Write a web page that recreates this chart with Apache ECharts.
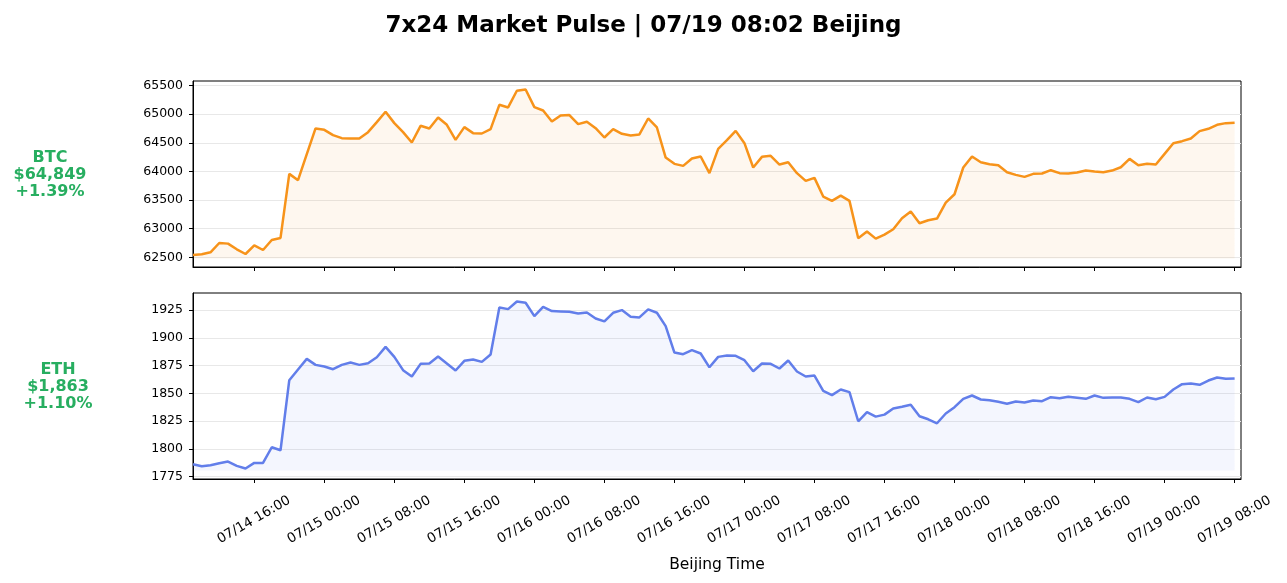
<!DOCTYPE html>
<html lang="en">
<head>
    <meta charset="UTF-8">
    <title>7x24 Market Pulse</title>
    <script src="https://cdn.jsdelivr.net/npm/echarts@6.0.0/dist/echarts.min.js"></script>
    <style>
        html, body { margin: 0; padding: 0; background: #fff; }
        #chart { width: 1287px; height: 583px; }
    </style>
</head>
<body>
    <div id="chart"></div>
    <script>
        // hourly closes, first point 07/14 09:02 Beijing
        const startHour = 9 + 2 / 60;
        const btc = [
            62541, 62552, 62587, 62750, 62739, 62640, 62558, 62710, 62628, 62803,
            62838, 63957, 63846, 64301, 64750, 64726, 64633, 64580, 64575, 64575,
            64685, 64860, 65041, 64843, 64685, 64505, 64796, 64750, 64942, 64814,
            64551, 64773, 64668, 64662, 64738, 65163, 65117, 65408, 65431, 65122,
            65064, 64872, 64977, 64983, 64825, 64866, 64755, 64592, 64738, 64656,
            64627, 64645, 64924, 64767, 64242, 64132, 64097, 64225, 64260, 63970,
            64394, 64545, 64708, 64493, 64068, 64254, 64272, 64120, 64161, 63969,
            63834, 63887, 63561, 63485, 63578, 63485, 62832, 62949, 62826, 62896,
            62990, 63182, 63298, 63094, 63147, 63176, 63456, 63601, 64068, 64260,
            64161, 64126, 64108, 63986, 63939, 63904, 63957, 63963, 64021, 63969,
            63963, 63980, 64015, 63998, 63986, 64015, 64073, 64219, 64108, 64132,
            64120, 64306, 64493, 64528, 64575, 64703, 64744, 64814, 64843, 64849
        ];
        const eth = [
            1786.2, 1784.4, 1785.3, 1787.1, 1788.6, 1784.7, 1782.3, 1787.4, 1787.4, 1801.5,
            1798.8, 1861.9, 1871.5, 1881.1, 1875.7, 1874.2, 1871.8, 1875.7, 1877.8, 1875.7,
            1877.2, 1882.6, 1891.9, 1882.9, 1870.9, 1865.2, 1876.6, 1876.9, 1883.2, 1877.0,
            1870.6, 1879.3, 1880.5, 1878.4, 1885.0, 1927.4, 1925.9, 1932.8, 1931.6, 1919.6,
            1928.0, 1924.1, 1923.8, 1923.5, 1922.0, 1922.9, 1917.5, 1914.8, 1922.6, 1925.0,
            1919.0, 1918.4, 1925.6, 1922.6, 1910.6, 1886.8, 1885.3, 1888.9, 1885.9, 1873.5,
            1882.9, 1884.1, 1883.8, 1879.9, 1870.0, 1876.9, 1876.6, 1872.4, 1879.6, 1869.7,
            1865.2, 1866.1, 1852.3, 1848.4, 1853.5, 1851.1, 1824.9, 1833.1, 1829.1, 1830.9,
            1836.4, 1837.9, 1839.7, 1829.4, 1826.7, 1823.1, 1831.9, 1837.6, 1845.1, 1848.1,
            1844.5, 1843.9, 1842.4, 1840.6, 1842.7, 1841.8, 1843.6, 1843.0, 1846.6, 1845.7,
            1846.9, 1846.0, 1845.1, 1848.1, 1846.0, 1846.3, 1846.3, 1845.1, 1842.1, 1846.3,
            1844.8, 1846.9, 1853.5, 1858.3, 1858.9, 1857.7, 1861.6, 1864.3, 1863.1, 1863.4
        ];
        // x ticks in hours since 07/14 00:00
        const xTicks = [16, 24, 32, 40, 48, 56, 64, 72, 80, 88, 96, 104, 112, 120, 128];
        const btcTicks = [62500, 63000, 63500, 64000, 64500, 65000, 65500];
        const ethTicks = [1775, 1800, 1825, 1850, 1875, 1900, 1925];
        const btcLabel = ['BTC', '$64,849', '+1.39%'];
        const ethLabel = ['ETH', '$1,863', '+1.10%'];

        const FONT = 'DejaVu Sans';
        const chart = echarts.init(document.getElementById('chart'));

        const hours = btc.map((_, i) => startHour + i);
        const xMax = startHour + btc.length - 1 + 0.73;

        function pad2(n) { return n < 10 ? '0' + n : '' + n; }
        function fmtHour(h) {
            const day = 14 + Math.floor(h / 24);
            return '07/' + pad2(day) + ' ' + pad2(Math.round(h % 24)) + ':00';
        }

        // matplotlib style autoscale around the fill baseline
        function yRange(vals) {
            const base = Math.min(...vals) * 0.999;
            const hi = Math.max(...vals);
            const p = (hi - base) * 0.05;
            return { base: base, min: base - p, max: hi + p };
        }
        const rb = yRange(btc);
        const re = yRange(eth);

        function xAxis(idx, showLabels) {
            return {
                type: 'value', gridIndex: idx, min: startHour, max: xMax,
                axisLine: { show: true, lineStyle: { color: '#000', width: 1 } },
                axisTick: { show: true, length: 4, customValues: xTicks, lineStyle: { color: '#000' } },
                axisLabel: {
                    show: showLabels, customValues: xTicks, formatter: fmtHour,
                    rotate: 30, align: 'center', verticalAlign: 'middle', margin: 41,
                    fontFamily: FONT, fontSize: 13.5, color: '#000'
                },
                splitLine: { show: false },
                name: showLabels ? 'Beijing Time' : '',
                nameLocation: 'middle', nameGap: 78,
                nameTextStyle: { fontFamily: FONT, fontSize: 15.5, color: '#000' }
            };
        }
        function yAxis(idx, r, ticks) {
            return {
                type: 'value', gridIndex: idx, min: r.min, max: r.max,
                axisLine: { show: true, lineStyle: { color: '#000', width: 1 } },
                axisTick: { show: true, length: 4, customValues: ticks, lineStyle: { color: '#000' } },
                axisLabel: {
                    customValues: ticks, margin: 10, formatter: v => String(v),
                    fontFamily: FONT, fontSize: 12.5, color: '#000'
                },
                splitLine: { show: true, lineStyle: { color: '#e8e8e8', width: 1 } }
            };
        }
        function sideText(lines, cx, cy) {
            return {
                type: 'text', x: cx, y: cy,
                style: {
                    text: lines.join('\n'), fill: '#27ae60',
                    font: 'bold 16px "DejaVu Sans"', textAlign: 'center',
                    textVerticalAlign: 'middle', lineHeight: 17
                }
            };
        }

        const option = {
            animation: false,
            title: {
                text: '7x24 Market Pulse | 07/19 08:02 Beijing',
                left: 'center', top: 10,
                textStyle: { fontFamily: FONT, fontSize: 23, fontWeight: 'bold', color: '#000' }
            },
            grid: [
                { left: 193, right: 46, top: 81, height: 186, show: true, borderColor: '#000', borderWidth: 1 },
                { left: 193, right: 46, top: 293, height: 186, show: true, borderColor: '#000', borderWidth: 1 }
            ],
            xAxis: [xAxis(0, false), xAxis(1, true)],
            yAxis: [yAxis(0, rb, btcTicks), yAxis(1, re, ethTicks)],
            graphic: [sideText(btcLabel, 50, 175), sideText(ethLabel, 58, 387)],
            series: [
                {
                    name: 'BTC', type: 'line', xAxisIndex: 0, yAxisIndex: 0,
                    data: hours.map((h, i) => [h, btc[i]]),
                    showSymbol: false,
                    lineStyle: { color: '#f7931a', width: 2.5 },
                    areaStyle: { color: 'rgba(247,147,26,0.1)', origin: rb.base }
                },
                {
                    name: 'ETH', type: 'line', xAxisIndex: 1, yAxisIndex: 1,
                    data: hours.map((h, i) => [h, eth[i]]),
                    showSymbol: false,
                    lineStyle: { color: '#627eea', width: 2.5 },
                    areaStyle: { color: 'rgba(98,126,234,0.1)', origin: re.base }
                }
            ]
        };
        chart.setOption(option);
    </script>
</body>
</html>
